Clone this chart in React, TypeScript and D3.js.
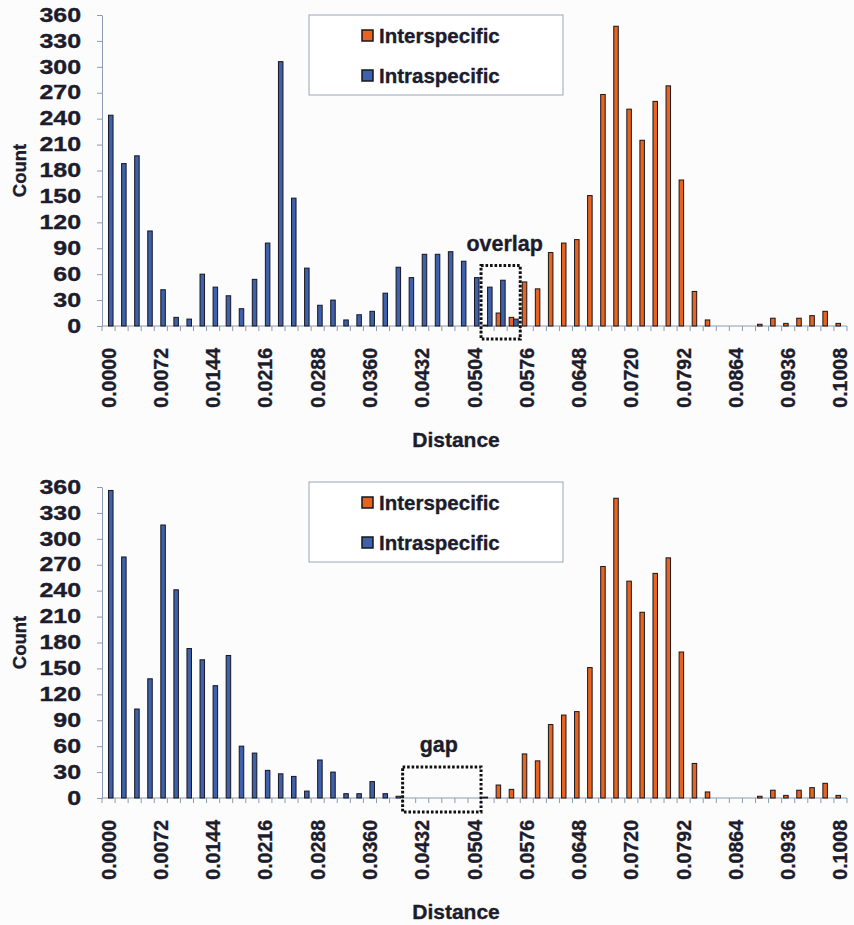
import React, { useEffect, useRef } from 'react';
import * as d3 from 'd3';

// distance classes (bin starts), one bar group per class
const categories = [
  '0.0000', '0.0018', '0.0036', '0.0054', '0.0072', '0.0090', '0.0108', '0.0126',
  '0.0144', '0.0162', '0.0180', '0.0198', '0.0216', '0.0234', '0.0252', '0.0270',
  '0.0288', '0.0306', '0.0324', '0.0342', '0.0360', '0.0378', '0.0396', '0.0414',
  '0.0432', '0.0450', '0.0468', '0.0486', '0.0504', '0.0522', '0.0540', '0.0558',
  '0.0576', '0.0594', '0.0612', '0.0630', '0.0648', '0.0666', '0.0684', '0.0702',
  '0.0720', '0.0738', '0.0756', '0.0774', '0.0792', '0.0810', '0.0828', '0.0846',
  '0.0864', '0.0882', '0.0900', '0.0918', '0.0936', '0.0954', '0.0972', '0.0990',
  '0.1008',
];

const tickLabels = [
  '0.0000', '0.0072', '0.0144', '0.0216', '0.0288', '0.0360', '0.0432', '0.0504',
  '0.0576', '0.0648', '0.0720', '0.0792', '0.0864', '0.0936', '0.1008',
];

const yTicks = [0, 30, 60, 90, 120, 150, 180, 210, 240, 270, 300, 330, 360];

const seriesNames = ['Interspecific', 'Intraspecific'];
const seriesColors = ['#e8631e', '#3f60aa'];

// same interspecific counts in both panels
const interspecific = [
  0, 0, 0, 0, 0, 0, 0, 0, 0, 0, 0, 0, 0, 0, 0, 0,
  0, 0, 0, 0, 0, 0, 0, 0, 0, 0, 0, 0, 0, 1, 15, 10,
  51, 43, 85, 96, 100, 151, 268, 347, 251, 215, 260, 278, 169, 40, 7, 0,
  0, 0, 2, 9, 3, 9, 12, 17, 3,
];

const intraspecificTop = [
  244, 188, 197, 110, 42, 10, 8, 60, 45, 35, 20, 54, 96, 306, 148, 67,
  24, 30, 7, 13, 17, 38, 68, 56, 83, 83, 86, 75, 56, 45, 53, 8,
  0, 0, 0, 0, 0, 0, 0, 0, 0, 0, 0, 0, 0, 0, 0, 0,
  0, 0, 0, 0, 0, 0, 0, 0, 0,
];

const intraspecificBottom = [
  356, 279, 103, 138, 316, 241, 173, 160, 130, 165, 60, 52, 32, 28, 25, 8,
  44, 30, 5, 5, 19, 5, 2, 0, 0, 0, 0, 0, 0, 0, 0, 0,
  0, 0, 0, 0, 0, 0, 0, 0, 0, 0, 0, 0, 0, 0, 0, 0,
  0, 0, 0, 0, 0, 0, 0, 0, 0,
];

const FONT = '"Liberation Sans", Arial, Helvetica, sans-serif';
const INK = '#1c1c2c';
const AXIS = '#8d9cb0';
const PAD = 0.31;
const Y_STRETCH = 1.28; // y tick numbers are drawn wide in the original

function boldText(sel, size) {
  return sel
    .attr('fill', INK)
    .attr('stroke', INK)
    .attr('stroke-width', 0.35)
    .style('font-family', FONT)
    .style('font-weight', 'bold')
    .style('font-size', size);
}

function drawPanel(svg, opts) {
  const { top, bottom, intra, legendY, box } = opts;
  const g = svg.append('g');

  const x = d3
    .scaleBand()
    .domain(categories)
    .range([102, 847])
    .paddingInner(PAD)
    .paddingOuter(PAD / 2);
  const sub = d3.scaleBand().domain(seriesNames).range([0, x.bandwidth()]);
  const y = d3.scaleLinear().domain([0, 360]).range([bottom, top]);
  const step = x.step();
  const edge = c => x(c) - (step * PAD) / 2;

  // y axis
  const yAxis = g
    .append('g')
    .attr('transform', 'translate(102,0)')
    .call(d3.axisLeft(y).tickValues(yTicks).tickSize(5).tickSizeOuter(0).tickPadding(16));
  yAxis.select('.domain').attr('stroke', AXIS);
  yAxis.selectAll('.tick line').attr('stroke', AXIS);
  boldText(yAxis.selectAll('.tick text'), '19.5px')
    .attr('x', -21 / Y_STRETCH)
    .attr('transform', 'scale(' + Y_STRETCH + ',1)');

  // x axis line + ticks at every class boundary
  const bounds = categories.map(edge).concat([edge(categories[categories.length - 1]) + step]);
  g.append('line')
    .attr('x1', bounds[0])
    .attr('x2', bounds[bounds.length - 1])
    .attr('y1', bottom)
    .attr('y2', bottom)
    .attr('stroke', AXIS);
  g.selectAll('.xt')
    .data(bounds)
    .enter()
    .append('line')
    .attr('x1', d => d)
    .attr('x2', d => d)
    .attr('y1', bottom)
    .attr('y2', bottom + 5)
    .attr('stroke', AXIS);

  boldText(
    g.selectAll('.xl')
      .data(tickLabels)
      .enter()
      .append('text')
      .attr('transform', d => 'translate(' + (x(d) + x.bandwidth() / 2) + ',' + (bottom + 22) + ') rotate(-90)')
      .attr('text-anchor', 'end')
      .attr('dy', '0.36em')
      .text(d => d),
    '19.5px'
  );

  // bars
  const series = [interspecific, intra];
  series.forEach((vals, si) => {
    g.selectAll('.bar' + si)
      .data(vals.map((v, i) => ({ c: categories[i], v })).filter(d => d.v > 0))
      .enter()
      .append('rect')
      .attr('x', d => x(d.c) + sub(seriesNames[si]))
      .attr('width', sub.bandwidth())
      .attr('y', d => y(d.v))
      .attr('height', d => bottom - y(d.v))
      .attr('fill', seriesColors[si])
      .attr('stroke', '#16161f')
      .attr('stroke-width', 1);
  });

  // titles
  boldText(
    g.append('text')
      .attr('x', 456)
      .attr('y', bottom + 121)
      .attr('text-anchor', 'middle')
      .text('Distance'),
    '21px'
  );
  boldText(
    g.append('text')
      .attr('transform', 'translate(19,' + (top + bottom) / 2 + ') rotate(-90)')
      .attr('text-anchor', 'middle')
      .attr('dy', '0.36em')
      .text('Count'),
    '18.5px'
  );

  // legend
  g.append('rect')
    .attr('x', 309)
    .attr('y', legendY)
    .attr('width', 254)
    .attr('height', 80)
    .attr('fill', '#ffffff')
    .attr('stroke', '#98a6b8');
  seriesNames.forEach((name, i) => {
    const ly = legendY + 15 + i * 40;
    g.append('rect')
      .attr('x', 362)
      .attr('y', ly)
      .attr('width', 11)
      .attr('height', 11)
      .attr('fill', seriesColors[i])
      .attr('stroke', '#16161f')
      .attr('stroke-width', 1.5);
    boldText(
      g.append('text')
        .attr('x', 379)
        .attr('y', ly + 13)
        .text(name),
      '20.5px'
    );
  });

  // dotted box marking overlap / gap
  const bx0 = edge(box.from);
  const bx1 = edge(box.to) + step;
  const by0 = y(box.value);
  g.append('rect')
    .attr('x', bx0)
    .attr('y', by0)
    .attr('width', bx1 - bx0)
    .attr('height', bottom + box.below - by0)
    .attr('fill', 'none')
    .attr('stroke', '#111')
    .attr('stroke-width', 3)
    .attr('stroke-dasharray', '2.6 1.9');
  boldText(
    g.append('text')
      .attr('x', (bx0 + bx1) / 2 + box.dx)
      .attr('y', by0 - 15)
      .attr('text-anchor', 'middle')
      .text(box.label),
    '21.5px'
  );
}

export default function App() {
  const ref = useRef(null);

  useEffect(() => {
    const svg = d3.select(ref.current);
    svg.selectAll('*').remove();
    svg.append('rect').attr('width', 854).attr('height', 925).attr('fill', '#fcfcfd');
    drawPanel(svg, {
      top: 15,
      bottom: 326,
      intra: intraspecificTop,
      legendY: 15,
      box: { from: '0.0522', to: '0.0558', value: 70, below: 13, label: 'overlap', dx: 4 },
    });
    drawPanel(svg, {
      top: 487,
      bottom: 798,
      intra: intraspecificBottom,
      legendY: 482,
      box: { from: '0.0414', to: '0.0504', value: 36, below: 14, label: 'gap', dx: -3 },
    });
  }, []);

  return (
    <svg
      ref={ref}
      width={854}
      height={925}
      style={{ position: 'absolute', left: 0, top: 0 }}
    />
  );
}
